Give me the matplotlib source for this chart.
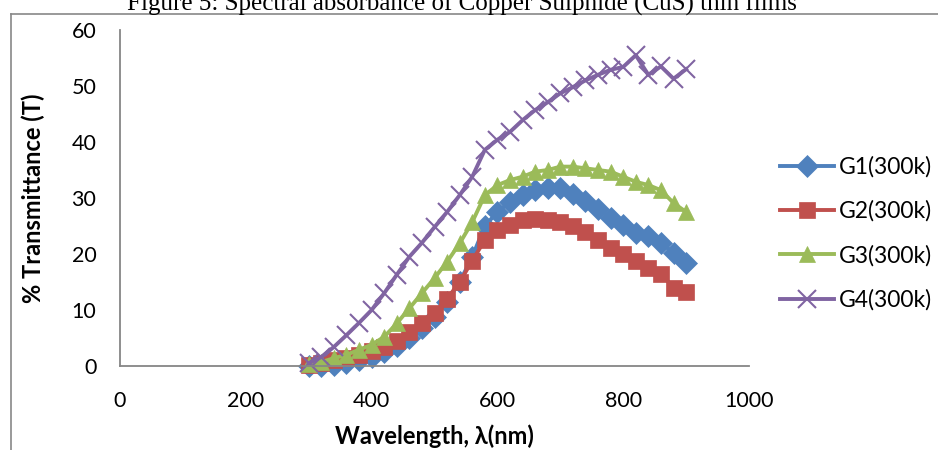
import matplotlib

matplotlib.use("Agg")
import matplotlib.pyplot as plt
from matplotlib.lines import Line2D

# wavelength in nm, 20 nm steps
wavelength = list(range(300, 901, 20))

g1 = [0.0, 0.0, 0.2, 0.5, 1.0, 1.6, 2.5, 3.6, 5.0, 6.7, 8.8, 11.5, 15.0, 19.5, 25.0, 27.5,
      29.3, 30.6, 31.5, 31.8, 31.8, 30.8, 29.5, 28.0, 26.5, 25.2, 23.8, 23.2, 22.0, 20.2, 18.4]
g2 = [0.2, 0.5, 1.0, 1.4, 2.0, 2.6, 3.4, 4.5, 6.0, 7.6, 9.5, 12.0, 15.0, 18.8, 22.5, 24.3,
      25.2, 26.0, 26.3, 26.0, 25.7, 25.0, 24.0, 22.5, 21.0, 20.0, 18.7, 17.5, 16.5, 14.0, 13.3]
g3 = [0.3, 0.7, 1.4, 2.0, 2.9, 3.8, 5.2, 7.6, 10.3, 13.0, 15.7, 18.6, 21.9, 25.7, 30.5, 32.3,
      33.2, 33.8, 34.7, 35.0, 35.6, 35.6, 35.3, 35.0, 34.7, 33.8, 32.9, 32.3, 31.4, 29.1, 27.5]
g4 = [0.5, 1.6, 3.4, 5.5, 7.7, 10.0, 13.0, 16.3, 19.5, 22.0, 24.8, 27.5, 30.5, 33.8, 38.6, 40.4,
      41.8, 43.9, 45.7, 47.1, 48.7, 49.8, 51.0, 52.0, 52.9, 53.4, 55.5, 52.0, 53.5, 51.3, 53.0]

labels = ["G1(300k)", "G2(300k)", "G3(300k)", "G4(300k)"]
colors = ["#4F81BD", "#C0504D", "#9BBB59", "#8064A2"]
markers = ["D", "s", "^", "x"]
msizes = [11, 11, 12, 13]

xticks = [0, 200, 400, 600, 800, 1000]
yticks = [0, 10, 20, 30, 40, 50, 60]

plt.rcParams["font.family"] = ["Lato", "DejaVu Sans"]

fig = plt.figure(figsize=(9.38, 4.5), dpi=100)
ax = fig.add_axes([120 / 938, 1 - 366 / 450, 629 / 938, 336 / 450])

for ys, lab, c, m, ms in zip([g1, g2, g3, g4], labels, colors, markers, msizes):
    ax.plot(wavelength, ys, color=c, lw=2.8, marker=m, ms=ms,
            mec=c, mfc=c, mew=1.5 if m == "x" else 0.5, label=lab, clip_on=False)

ax.set_xlim(0, 1000)
ax.set_ylim(0, 60)
ax.set_xticks(xticks)
ax.set_yticks(yticks)
ax.tick_params(axis="both", length=0, labelsize=15.5)
ax.tick_params(axis="x", pad=18)
ax.tick_params(axis="y", pad=17)
for s in ("top", "right"):
    ax.spines[s].set_visible(False)
for s in ("left", "bottom"):
    ax.spines[s].set_color("#868686")
    ax.spines[s].set_linewidth(1.3)

ax.set_xlabel("Wavelength, λ(nm)", fontsize=17, fontweight="bold", va="center")
ax.set_ylabel("% Transmittance (T)", fontsize=17, fontweight="bold", va="center")
ax.xaxis.set_label_coords(0.5, (366 - 436) / 336, transform=ax.transAxes)
ax.yaxis.set_label_coords((33 - 120) / 629, 0.5, transform=ax.transAxes)

ax.legend(loc="center left", bbox_to_anchor=(780 / 938, 1 - 233.5 / 450),
          bbox_transform=fig.transFigure, frameon=False, fontsize=16.5,
          handlelength=2.36, handletextpad=0.2, labelspacing=1.0, borderpad=0,
          borderaxespad=0)

fig.text(462 / 938, 1 - 11 / 450, "Figure 5: Spectral absorbance of Copper Sulphide (CuS) thin films",
         family="Liberation Serif", fontsize=18, ha="center", va="baseline")

# chart border
fig.add_artist(Line2D([11 / 938, 11 / 938], [0, 1 - 14 / 450], color="#888888", lw=1.2))
fig.add_artist(Line2D([11 / 938, 1], [1 - 14 / 450, 1 - 14 / 450], color="#888888", lw=1.2))

fig.savefig("out.png", dpi=100)
